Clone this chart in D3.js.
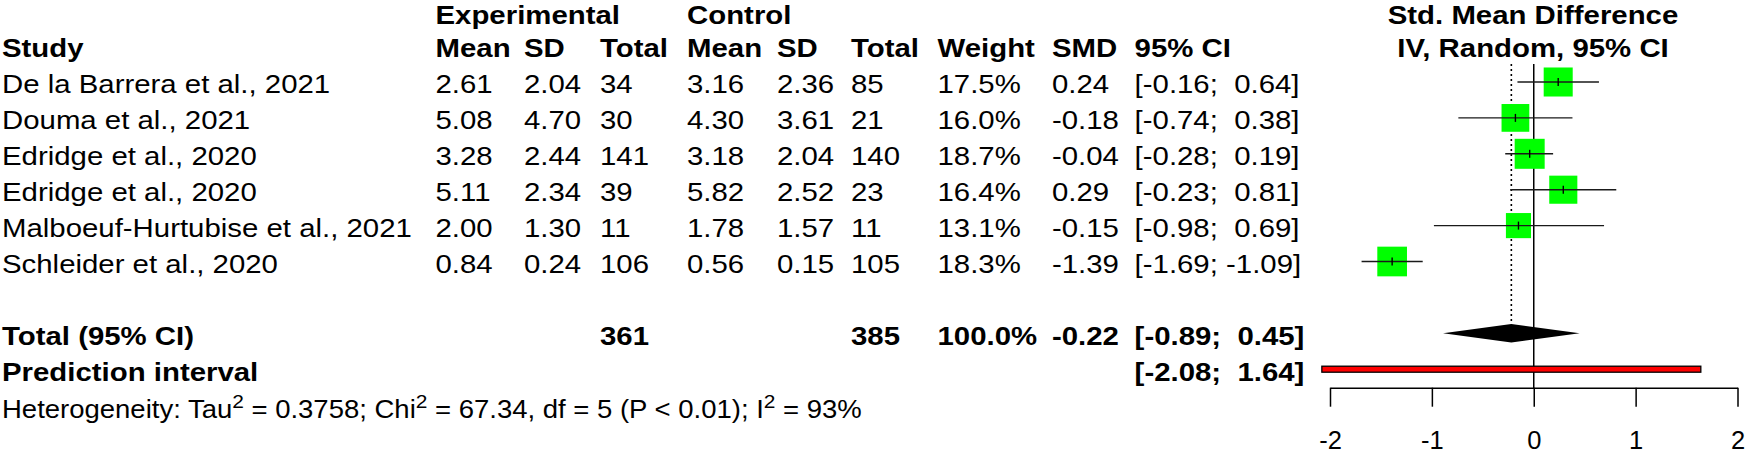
<!DOCTYPE html>
<html>
<head>
<meta charset="utf-8">
<script src="https://cdn.jsdelivr.net/npm/d3@7"></script>
<style>
  html, body { margin: 0; padding: 0; background: #ffffff; }
  svg { display: block; }
  text { font-family: "Liberation Sans", Arial, sans-serif; fill: #000; white-space: pre; }
</style>
</head>
<body>
<svg id="chart" width="1745" height="455"></svg>
<script>
// ---------------- DATA ----------------
const studies = [
  "De la Barrera et al., 2021",
  "Douma et al., 2021",
  "Edridge et al., 2020",
  "Edridge et al., 2020",
  "Malboeuf-Hurtubise et al., 2021",
  "Schleider et al., 2020"
];
const expMean   = [2.61, 5.08, 3.28, 5.11, 2.00, 0.84];
const expSD     = [2.04, 4.70, 2.44, 2.34, 1.30, 0.24];
const expTotal  = [34, 30, 141, 39, 11, 106];
const ctrlMean  = [3.16, 4.30, 3.18, 5.82, 1.78, 0.56];
const ctrlSD    = [2.36, 3.61, 2.04, 2.52, 1.57, 0.15];
const ctrlTotal = [85, 21, 140, 23, 11, 105];
const weights   = [17.5, 16.0, 18.7, 16.4, 13.1, 18.3];
const smd       = [0.24, -0.18, -0.04, 0.29, -0.15, -1.39];
const ciLower   = [-0.16, -0.74, -0.28, -0.23, -0.98, -1.69];
const ciUpper   = [0.64, 0.38, 0.19, 0.81, 0.69, -1.09];

const totalN        = [361, 385];
const totalWeight   = 100.0;
const pooledSMD     = -0.22;
const pooledCI      = [-0.89, 0.45];
const predInterval  = [-2.08, 1.64];
const xTicks        = [-2, -1, 0, 1, 2];
const hetTau2 = 0.3758, hetChi2 = 67.34, hetDf = 5, hetP = "P < 0.01", hetI2 = 93;

const headerTop = ["Experimental", "Control"];
const headerCols = ["Study", "Mean", "SD", "Total", "Mean", "SD", "Total", "Weight", "SMD", "95% CI"];
const plotTitle = ["Std. Mean Difference", "IV, Random, 95% CI"];

// ---------------- LAYOUT ----------------
const svg = d3.select("#chart");
const FS = 26, SX = 1.13;
const colX = [2, 435.5, 524, 600, 687, 777, 851, 937.5, 1052, 1134.6];

// row scale: row index -> row centre
const y = d3.scaleLinear().domain([0, 1]).range([82, 117.9]);
const base = r => y(r) + 11.3;

const x = d3.scaleLinear().domain([-2, 2]).range([1330, 1737.5]);
const side = d3.scaleSqrt().domain([0, 18.7]).range([0, 30]);

const f2 = v => v.toFixed(2);
const fw = v => v.toFixed(1) + "%";
const ci = (lo, hi) => "[" + f2(lo) + ";" + (hi < 0 ? " " : "  ") + f2(hi) + "]";

function txt(g, s, px, py, opts = {}) {
  return g.append("text")
    .attr("transform", `translate(${px},${py}) scale(${opts.sx || SX},1)`)
    .attr("font-size", opts.fs || FS)
    .attr("font-weight", opts.bold ? "bold" : "normal")
    .attr("text-anchor", opts.anchor || "start")
    .text(s);
}

const gt = svg.append("g");

// headers
const topBase = 23.5;
txt(gt, headerTop[0], colX[1], topBase, { bold: true });
txt(gt, headerTop[1], colX[4], topBase, { bold: true });
headerCols.forEach((h, i) => txt(gt, h, colX[i], base(-1), { bold: true }));
txt(gt, plotTitle[0], 1533, topBase, { bold: true, anchor: "middle" });
txt(gt, plotTitle[1], 1533, base(-1), { bold: true, anchor: "middle" });

// study rows
studies.forEach((s, i) => {
  const b = base(i);
  txt(gt, s, colX[0], b);
  txt(gt, f2(expMean[i]), colX[1], b);
  txt(gt, f2(expSD[i]), colX[2], b);
  txt(gt, String(expTotal[i]), colX[3], b);
  txt(gt, f2(ctrlMean[i]), colX[4], b);
  txt(gt, f2(ctrlSD[i]), colX[5], b);
  txt(gt, String(ctrlTotal[i]), colX[6], b);
  txt(gt, fw(weights[i]), colX[7], b);
  txt(gt, f2(smd[i]), colX[8], b);
  txt(gt, ci(ciLower[i], ciUpper[i]), colX[9], b);
});

// total row
txt(gt, "Total (95% CI)", colX[0], base(7), { bold: true });
txt(gt, String(totalN[0]), colX[3], base(7), { bold: true });
txt(gt, String(totalN[1]), colX[6], base(7), { bold: true });
txt(gt, fw(totalWeight), colX[7], base(7), { bold: true });
txt(gt, f2(pooledSMD), colX[8], base(7), { bold: true });
txt(gt, ci(pooledCI[0], pooledCI[1]), colX[9], base(7), { bold: true });

// prediction interval row
txt(gt, "Prediction interval", colX[0], base(8), { bold: true });
txt(gt, ci(predInterval[0], predInterval[1]), colX[9], base(8), { bold: true });

// heterogeneity
const HFS = 25;
const het = txt(gt, "", colX[0], 418, { fs: HFS, sx: 1.1 });
const parts = [
  ["Heterogeneity: Tau", false], ["2", true],
  [" = " + hetTau2.toFixed(4) + "; Chi", false], ["2", true],
  [" = " + f2(hetChi2) + ", df = " + hetDf + " (" + hetP + "); I", false], ["2", true],
  [" = " + hetI2 + "%", false]
];
parts.forEach(([s, sup]) => {
  het.append("tspan")
    .attr("font-size", sup ? 19 : HFS)
    .attr("baseline-shift", sup ? "10" : "0")
    .text(s);
});

// ---------------- PLOT ----------------
const gp = svg.append("g");

// dotted line at pooled estimate
gp.append("line")
  .attr("x1", x(pooledSMD)).attr("x2", x(pooledSMD))
  .attr("y1", 64).attr("y2", y(7) - 9)
  .attr("stroke", "#000").attr("stroke-width", 1.6)
  .attr("stroke-dasharray", "2,3");

// zero line
gp.append("line")
  .attr("x1", x(0)).attr("x2", x(0))
  .attr("y1", 64).attr("y2", 388)
  .attr("stroke", "#000").attr("stroke-width", 1.5);

// squares
gp.selectAll("rect.sq").data(smd).join("rect")
  .attr("class", "sq")
  .attr("x", (d, i) => x(d) - side(weights[i]) / 2)
  .attr("y", (d, i) => y(i) - side(weights[i]) / 2)
  .attr("width", (d, i) => side(weights[i]))
  .attr("height", (d, i) => side(weights[i]))
  .attr("fill", "#00ff00");

// CI lines
gp.selectAll("line.ci").data(smd).join("line")
  .attr("class", "ci")
  .attr("x1", (d, i) => x(ciLower[i]))
  .attr("x2", (d, i) => x(ciUpper[i]))
  .attr("y1", (d, i) => y(i)).attr("y2", (d, i) => y(i))
  .attr("stroke", "#1a1a1a").attr("stroke-width", 1.4);

// centre ticks
gp.selectAll("line.ct").data(smd).join("line")
  .attr("class", "ct")
  .attr("x1", d => x(d)).attr("x2", d => x(d))
  .attr("y1", (d, i) => y(i) - 4).attr("y2", (d, i) => y(i) + 4)
  .attr("stroke", "#000").attr("stroke-width", 1.4);

// diamond
const cy = y(7);
gp.append("polygon")
  .attr("points", [
    [x(pooledCI[0]), cy], [x(pooledSMD), cy - 9.2],
    [x(pooledCI[1]), cy], [x(pooledSMD), cy + 9.2]
  ].map(p => p.join(",")).join(" "))
  .attr("fill", "#000");

// prediction interval bar
gp.append("rect")
  .attr("x", x(predInterval[0]))
  .attr("y", y(8) - 3)
  .attr("width", x(predInterval[1]) - x(predInterval[0]))
  .attr("height", 6)
  .attr("fill", "#ff0000")
  .attr("stroke", "#000").attr("stroke-width", 1.3);

// axis
const axis = d3.axisBottom(x).tickValues(xTicks).tickSize(19).tickSizeOuter(0);
const ga = svg.append("g").attr("transform", "translate(0,387.7)").call(axis);
ga.select(".domain").attr("stroke", "#000").attr("stroke-width", 1.5);
ga.selectAll(".tick line").attr("stroke", "#000").attr("stroke-width", 1.5);
ga.selectAll(".tick text")
  .attr("y", 0).attr("dy", 0)
  .attr("transform", "translate(0,61.5)")
  .attr("font-size", 25.5)
  .attr("font-family", "Liberation Sans, Arial, sans-serif")
  .attr("fill", "#000")
  .text(d => d < 0 ? "-" + Math.abs(d) : String(d));
</script>
</body>
</html>
